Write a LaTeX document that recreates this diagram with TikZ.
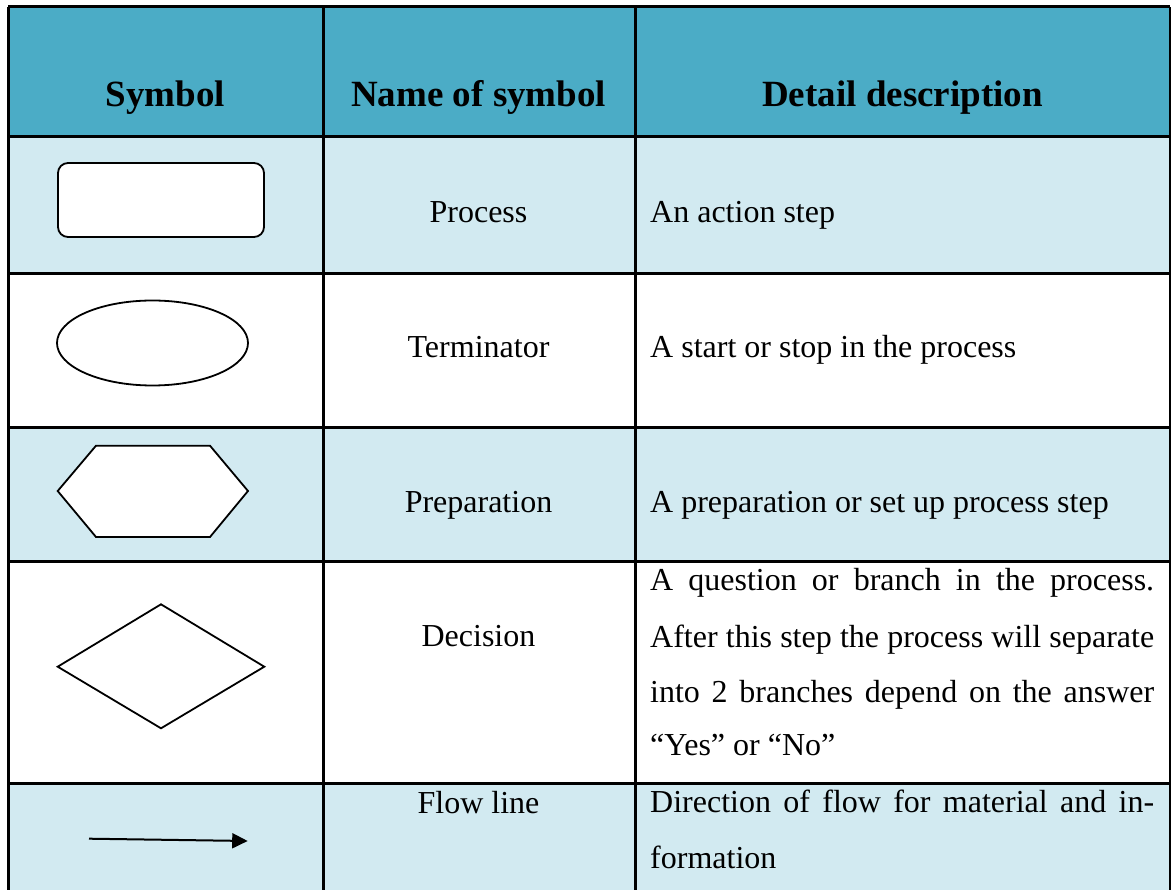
\documentclass[tikz,border=0pt]{standalone}
\usepackage{fontspec}
\setmainfont{Liberation Serif}
\usetikzlibrary{shapes.geometric,arrows.meta}
\definecolor{headblue}{HTML}{4BACC6}
\definecolor{bandblue}{HTML}{D2EAF1}
\tikzset{
  grid line/.style={line width=3pt, black},
  symb/.style={draw=black, line width=1.8pt, fill=white},
  headtxt/.style={inner sep=0pt, anchor=base, font=\fontsize{37}{44}\selectfont\bfseries},
  nametxt/.style={inner sep=0pt, anchor=base, font=\fontsize{32}{40}\selectfont},
  desctxt/.style={inner sep=0pt, anchor=base west, font=\fontsize{32}{40}\selectfont},
}
\newcommand{\justline}[1]{\makebox[504pt][s]{#1}}
\begin{document}
\begin{tikzpicture}[x=1pt, y=-1pt]
  \useasboundingbox (0,0) rectangle (1171,890);
  % row shading
  \fill[headblue] (8,7) rectangle (1170,137);
  \fill[bandblue] (8,137) rectangle (1170,274);
  \fill[bandblue] (8,428) rectangle (1170,562);
  \fill[bandblue] (8,783) rectangle (1170,890);
  % rules
  \foreach \yy in {7,137,274,428,562,783}
    \draw[grid line] (8,\yy) -- (1170,\yy);
  \foreach \xx in {8,323,635,1170}
    \draw[grid line] (\xx,7) -- (\xx,890);

  % header
  \node[headtxt] (h1) at (165.5,106.7) {Symbol};
  \node[headtxt] (h2) at (478.7,106.7) {Name of symbol};
  \node[headtxt] (h3) at (902.5,106.7) {Detail description};

  % symbols
  \node[symb, rounded corners=10pt, minimum width=206pt, minimum height=74pt, inner sep=0pt] (proc) at (161,200) {};
  \node[symb, ellipse, minimum width=191pt, minimum height=85pt, inner sep=0pt] (term) at (152.5,343) {};
  \coordinate (hx1) at (57.7,491);
  \coordinate (hx2) at (96,445.7);
  \coordinate (hx3) at (210,445.7);
  \coordinate (hx4) at (248,491);
  \coordinate (hx5) at (210,537);
  \coordinate (hx6) at (96,537);
  \draw[symb, line join=miter] (hx1) -- (hx2) -- (hx3) -- (hx4) -- (hx5) -- (hx6) -- cycle;
  \coordinate (dm1) at (57.7,666.7);
  \coordinate (dm2) at (161,604.3);
  \coordinate (dm3) at (264.3,666.7);
  \coordinate (dm4) at (161,728.3);
  \draw[symb, line join=miter] (dm1) -- (dm2) -- (dm3) -- (dm4) -- cycle;
  \coordinate (fa) at (89,838.7);
  \coordinate (fb) at (247.7,841);
  \draw[line width=2pt, -{Triangle[length=15.5pt, width=15pt]}] (fa) -- (fb);

  % names
  \node[nametxt] (n1) at (478.5,222.7) {Process};
  \node[nametxt] (n2) at (478.5,357.7) {Terminator};
  \node[nametxt] (n3) at (478.5,512.3) {Preparation};
  \node[nametxt] (n4) at (478.5,646.7) {Decision};
  \node[nametxt] (n5) at (478.5,813) {Flow line};

  % descriptions
  \node[desctxt] (d1) at (650,222.7) {An action step};
  \node[desctxt] (d2) at (650,357.7) {A start or stop in the process};
  \node[desctxt] (d3) at (650,512.3) {A preparation or set up process step};
  \node[desctxt] (d4a) at (650,590.7) {\justline{A question or branch in the process.}};
  \node[desctxt] (d4b) at (650,647) {\justline{After this step the process will separate}};
  \node[desctxt] (d4c) at (650,702.7) {\justline{into 2 branches depend on the answer}};
  \node[desctxt] (d4d) at (650,755) {“Yes” or “No”};
  \node[desctxt] (d5a) at (650,812.7) {\justline{Direction of flow for material and in-}};
  \node[desctxt] (d5b) at (650,868) {formation};
\end{tikzpicture}
\end{document}
